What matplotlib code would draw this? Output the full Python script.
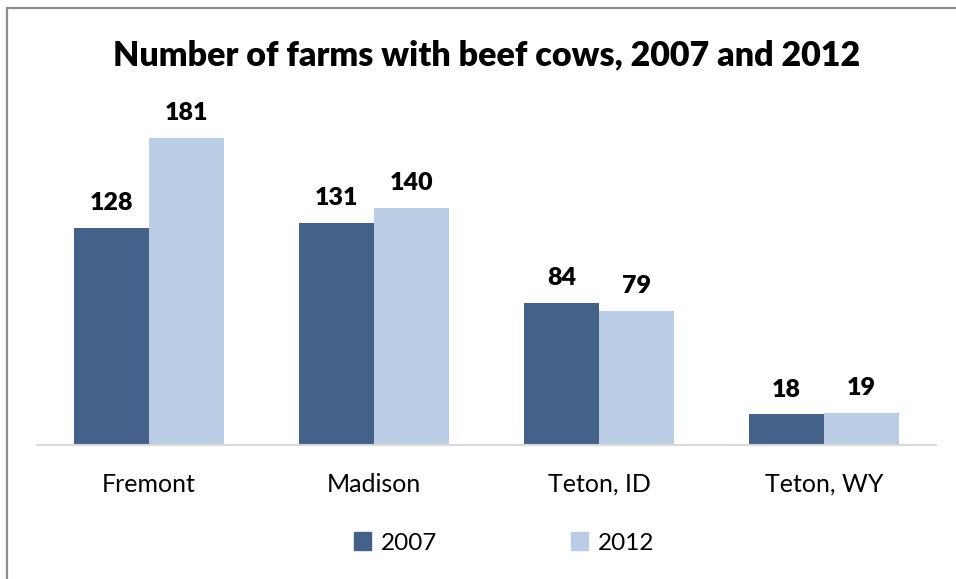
import matplotlib.pyplot as plt
from matplotlib.patches import Rectangle, Patch

counties = ["Fremont", "Madison", "Teton, ID", "Teton, WY"]
farms_2007 = [128, 131, 84, 18]
farms_2012 = [181, 140, 79, 19]

dark_blue = "#44618A"
light_blue = "#B9CDE5"

plt.rcParams['font.family'] = ['Lato', 'DejaVu Sans']

fig = plt.figure(figsize=(9.56, 5.79), dpi=100)
ax = fig.add_axes([0.0382, 0.2314, 0.9414, 0.5858])

# outer chart frame, runs off the right and bottom edges
fig.patches.append(Rectangle((7 / 956, -0.05), 1.2, 1 - 8 / 579 + 0.05,
                             transform=fig.transFigure, fill=False,
                             edgecolor="#8C8C8C", linewidth=1.6))

w = 1 / 3
x = range(len(counties))
b1 = ax.bar([i - w / 2 for i in x], farms_2007, width=w, color=dark_blue)
b2 = ax.bar([i + w / 2 for i in x], farms_2012, width=w, color=light_blue)

for bars in (b1, b2):
    ax.bar_label(bars, padding=10, fontsize=18, fontweight="heavy")

ax.set_xlim(-0.5, 3.5)
ax.set_ylim(0, 200)
ax.set_xticks(list(x))
ax.set_xticklabels(counties, fontsize=18)
ax.tick_params(axis="x", length=0, pad=20)
ax.set_yticks([])
for s in ("left", "right", "top"):
    ax.spines[s].set_visible(False)
ax.spines["bottom"].set_color("#D9D9D9")
ax.spines["bottom"].set_linewidth(1.5)

fig.text(487 / 956, 1 - 55 / 579, "Number of farms with beef cows, 2007 and 2012",
         ha="center", va="center", fontsize=24.5, fontweight="heavy")

handles = [Patch(color=dark_blue, label="2007"), Patch(color=light_blue, label="2012")]
fig.legend(handles=handles, loc="center", bbox_to_anchor=(504 / 956, 1 - 543 / 579),
           ncol=2, frameon=False, fontsize=17.5, handlelength=0.7, handleheight=0.7,
           handletextpad=0.4, columnspacing=5.5)

fig.savefig("out.png", dpi=100)
